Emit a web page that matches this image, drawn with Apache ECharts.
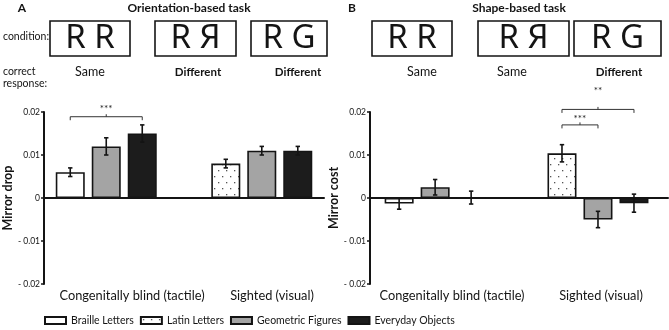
<!DOCTYPE html>
<html><head><meta charset="utf-8">
<script src="https://cdn.jsdelivr.net/npm/echarts@6/dist/echarts.min.js"></script>
<style>html,body{margin:0;padding:0;background:#fff}#c{width:669px;height:330px}</style>
</head><body><div id="c"></div>
<script>
// ---------- DATA ----------
const groups = ['Congenitally blind (tactile)', 'Sighted (visual)'];
const stimuli = ['Braille Letters', 'Latin Letters', 'Geometric Figures', 'Everyday Objects'];
const slotOf = [0, 0, 1, 2];
const panelLetters = ['A', 'B'];
const panelTitles = ['Orientation-based task', 'Shape-based task'];
const yNames = ['Mirror drop', 'Mirror cost'];

// Panel A: orientation-based task (mirror drop)
const orientBraille = [0.006, null];
const orientLatin = [null, 0.008];
const orientGeometric = [0.012, 0.011];
const orientEveryday = [0.015, 0.011];
const orientBrailleErr = [0.001, null];
const orientLatinErr = [null, 0.001];
const orientGeometricErr = [0.002, 0.001];
const orientEverydayErr = [0.002, 0.001];

// Panel B: shape-based task (mirror cost)
const shapeBraille = [-0.0013, null];
const shapeLatin = [null, 0.0104];
const shapeGeometric = [0.0025, -0.005];
const shapeEveryday = [0.0001, -0.0012];
const shapeBrailleErr = [0.0013, null];
const shapeLatinErr = [null, 0.0020];
const shapeGeometricErr = [0.0018, 0.0019];
const shapeEverydayErr = [0.0015, 0.0021];

// conditions shown in boxes and correct responses
const conditionPairs = ['R R', 'R Я', 'R G'];
const orientResponses = ['Same', 'Different', 'Different'];
const shapeResponses = ['Same', 'Same', 'Different'];

// significance brackets: [group, fromSlot, toSlot, lineLevel, labelLevel, label]
const orientSig = [[0, 0, 2, 0.0189, 0.0208, '***']];
const shapeSig = [[1, 0, 2, 0.0206, 0.0249, '**'], [1, 0, 1, 0.0170, 0.0184, '***']];

// ---------- STYLE / LAYOUT ----------
const FONT = 'Lato, "Open Sans", sans-serif';
const BAR_W = 29, BAR_GAP_PX = 7, SLOT_STEP = BAR_W + BAR_GAP_PX;
const INK = '#141414';

function dotPattern() {
  const c = document.createElement('canvas');
  c.width = 8; c.height = 12;
  const ctx = c.getContext('2d');
  ctx.fillStyle = '#ffffff'; ctx.fillRect(0, 0, 8, 12);
  ctx.fillStyle = '#555555';
  ctx.fillRect(2, 2, 1.3, 1.3);
  ctx.fillRect(6, 8, 1.3, 1.3);
  return c;
}
const fills = ['#ffffff', { image: dotPattern(), repeat: 'repeat' }, '#a4a4a4', '#1c1c1c'];

const panels = [
  { vals: [orientBraille, orientLatin, orientGeometric, orientEveryday],
    errs: [orientBrailleErr, orientLatinErr, orientGeometricErr, orientEverydayErr],
    sig: orientSig, responses: orientResponses,
    grid: { left: 34, top: 112, width: 290, height: 172 }, xMin: -0.4, xMax: 1.4, labelPad: 36, nameGap: 22,
    boxes: [[50, 80], [155, 81], [251, 76]], respX: [90, 198, 298], titleX: 189, letterX: 22 },
  { vals: [shapeBraille, shapeLatin, shapeGeometric, shapeEveryday],
    errs: [shapeBrailleErr, shapeLatinErr, shapeGeometricErr, shapeEverydayErr],
    sig: shapeSig, responses: shapeResponses,
    grid: { left: 370, top: 112, width: 298, height: 172 }, xMin: -0.4, xMax: 1.43, labelPad: 15, nameGap: 23,
    boxes: [[372, 80], [478, 91], [574, 87]], respX: [422, 512, 619], titleX: 519, letterX: 352 }
];

const grid = [], xAxis = [], yAxis = [], series = [], graphic = [];

panels.forEach((p, pi) => {
  grid.push(p.grid);
  xAxis.push({
    gridIndex: pi, type: 'value', min: p.xMin, max: p.xMax,
    axisLine: { onZero: true, lineStyle: { color: INK, width: 2 } },
    axisTick: { show: false }, axisLabel: { show: false }, splitLine: { show: false }
  });
  xAxis.push({
    gridIndex: pi, type: 'category', data: groups, position: 'bottom',
    axisLine: { show: false, onZero: false }, axisTick: { show: false }, splitLine: { show: false },
    axisLabel: { interval: 0, hideOverlap: false, margin: 5, fontSize: 12.8, color: INK, fontFamily: FONT, padding: [0, 0, 0, p.labelPad] }
  });
  yAxis.push({
    gridIndex: pi, type: 'value', min: -0.02, max: 0.02, interval: 0.01,
    name: yNames[pi], nameLocation: 'middle', nameGap: p.nameGap,
    nameTextStyle: { fontWeight: 'bold', fontSize: 12.5, color: INK, fontFamily: FONT },
    axisLine: { show: true, onZero: false, lineStyle: { color: INK, width: 2 } },
    axisTick: { show: true, length: 3, lineStyle: { color: INK, width: 1.5 } },
    splitLine: { show: false },
    axisLabel: { fontSize: 8.5, color: INK, margin: 4, fontFamily: FONT,
      formatter: v => Math.abs(v) < 1e-9 ? '0' : (v < 0 ? '- ' + Math.abs(v).toFixed(2) : v.toFixed(2)) }
  });

  // bars
  p.vals.forEach((vals, s) => {
    const ser = {
      type: 'bar', name: stimuli[s], xAxisIndex: pi * 2, yAxisIndex: pi,
      barWidth: BAR_W, barGap: (BAR_GAP_PX / BAR_W * 100).toFixed(1) + '%',
      data: vals.map((v, i) => [i, v == null ? '-' : v]),
      itemStyle: { color: fills[s], borderColor: INK, borderWidth: 1.6 },
      emphasis: { disabled: true }, silent: true, z: 2
    };
    if (s < 2) ser.stack = 'letters';
    series.push(ser);
  });

  // error bars
  const errData = [];
  p.vals.forEach((vals, s) => vals.forEach((v, i) => {
    if (v != null) errData.push([i, v, p.errs[s][i], slotOf[s]]);
  }));
  series.push({
    type: 'custom', xAxisIndex: pi * 2, yAxisIndex: pi, z: 5, silent: true,
    data: errData,
    renderItem: (params, api) => {
      const g = api.value(0), v = api.value(1), e = api.value(2), slot = api.value(3);
      const x = api.coord([g, 0])[0] + (slot - 1) * SLOT_STEP;
      const yh = api.coord([g, v + e])[1], yl = api.coord([g, v - e])[1];
      const st = { stroke: INK, lineWidth: 1.6 };
      return { type: 'group', children: [
        { type: 'line', shape: { x1: x, y1: yh, x2: x, y2: yl }, style: st },
        { type: 'line', shape: { x1: x - 2.2, y1: yh, x2: x + 2.2, y2: yh }, style: st },
        { type: 'line', shape: { x1: x - 2.2, y1: yl, x2: x + 2.2, y2: yl }, style: st }
      ] };
    }
  });

  // significance brackets
  series.push({
    type: 'custom', xAxisIndex: pi * 2, yAxisIndex: pi, z: 5, silent: true, clip: false,
    data: p.sig,
    renderItem: (params, api) => {
      const d = p.sig[params.dataIndex];
      const g = d[0];
      const base = api.coord([g, d[3]]);
      const x1 = base[0] + (d[1] - 1) * SLOT_STEP, x2 = base[0] + (d[2] - 1) * SLOT_STEP;
      const y = base[1], xm = (x1 + x2) / 2;
      const ly = api.coord([g, d[4]])[1];
      const st = { stroke: '#333', lineWidth: 1, fill: null };
      return { type: 'group', children: [
        { type: 'polyline', shape: { points: [[x1, y + 3.5], [x1, y], [x2, y], [x2, y + 3.5]] }, style: st },
        { type: 'line', shape: { x1: xm, y1: y, x2: xm, y2: y - 2.5 }, style: st },
        { type: 'text', x: xm, y: ly, style: { text: d[5], font: '10px ' + FONT, fill: '#222', align: 'center', verticalAlign: 'middle' } }
      ] };
    }
  });

  // header texts
  graphic.push({ type: 'text', x: p.letterX, y: 8, style: { text: panelLetters[pi], font: 'bold 12px ' + FONT, fill: INK, align: 'center', verticalAlign: 'middle' } });
  graphic.push({ type: 'text', x: p.titleX, y: 8.5, style: { text: panelTitles[pi], font: 'bold 12px ' + FONT, fill: INK, align: 'center', verticalAlign: 'middle' } });
  p.boxes.forEach((b, k) => {
    graphic.push({ type: 'rect', shape: { x: b[0], y: 21, width: b[1], height: 35 }, style: { fill: '#fff', stroke: INK, lineWidth: 1.6 } });
    graphic.push({ type: 'text', x: b[0] + b[1] / 2, y: 39, style: { text: conditionPairs[k], font: '33px "Noto Sans", sans-serif', fill: INK, align: 'center', verticalAlign: 'middle' } });
    const r = p.responses[k];
    graphic.push({ type: 'text', x: p.respX[k], y: 72, style: { text: r, font: (r === 'Different' ? 'bold 11.5px ' : '12.5px ') + FONT, fill: INK, align: 'center', verticalAlign: 'middle' } });
  });
});

graphic.push({ type: 'text', x: 3, y: 37, style: { text: 'condition:', font: '10.5px ' + FONT, fill: INK, align: 'left', verticalAlign: 'middle' } });
graphic.push({ type: 'text', x: 3, y: 72, style: { text: 'correct', font: '10.5px ' + FONT, fill: INK, align: 'left', verticalAlign: 'middle' } });
graphic.push({ type: 'text', x: 3, y: 84, style: { text: 'response:', font: '10.5px ' + FONT, fill: INK, align: 'left', verticalAlign: 'middle' } });

const chart = echarts.init(document.getElementById('c'), null, { renderer: 'canvas' });
chart.setOption({
  animation: false,
  backgroundColor: '#ffffff',
  textStyle: { fontFamily: FONT },
  grid, xAxis, yAxis, series, graphic,
  legend: {
    left: 44, top: 315, padding: 0, icon: 'rect', itemWidth: 21, itemHeight: 7, itemGap: 6,
    data: stimuli, selectedMode: false,
    textStyle: { fontSize: 10.5, color: INK, fontFamily: FONT }
  }
});
</script></body></html>
